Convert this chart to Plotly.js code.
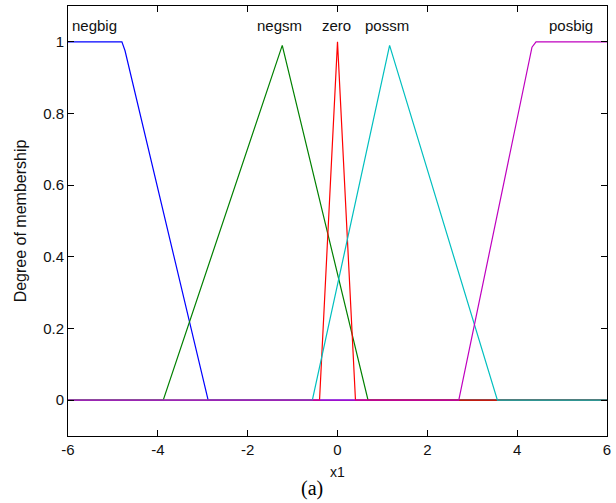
<!DOCTYPE html>
<html>
<head>
<meta charset="utf-8">
<script src="https://cdn.plot.ly/plotly-3.0.1.min.js"></script>
<style>
  html, body { margin: 0; padding: 0; background: #ffffff; }
  #chart { width: 616px; height: 503px; }
</style>
</head>
<body>
<div id="chart"></div>
<script>
// Membership functions of input x1
const mfNames = ["negbig", "negsm", "zero", "possm", "posbig"];

const negbigX = [-6, -4.8, -4.73, -2.88, 6];
const negbigY = [1, 1, 0.975, 0, 0];

const negsmX = [-6, -3.88, -1.23, 0.68, 6];
const negsmY = [0, 0, 0.99, 0, 0];

const zeroX = [-6, -0.4, 0, 0.4, 6];
const zeroY = [0, 0, 1, 0, 0];

const possmX = [-6, -0.56, 1.16, 3.56, 6];
const possmY = [0, 0, 0.99, 0, 0];

const posbigX = [-6, 2.70, 4.33, 4.42, 6];
const posbigY = [0, 0, 0.985, 1, 1];

// label positions (x centre, y) of the MF names
const labelX = [-5.41, -1.29, -0.02, 1.10, 5.20];
const labelY = [1.045, 1.045, 1.045, 1.045, 1.045];

const xTicks = [-6, -4, -2, 0, 2, 4, 6];
const yTicks = [0, 0.2, 0.4, 0.6, 0.8, 1];

const colors = ["#0000ff", "#008000", "#ff0000", "#00bfbf", "#bf00bf"];

const seriesX = [negbigX, negsmX, zeroX, possmX, posbigX];
const seriesY = [negbigY, negsmY, zeroY, possmY, posbigY];

const traces = seriesX.map((xs, i) => ({
  x: xs,
  y: seriesY[i],
  type: "scatter",
  mode: "lines",
  name: mfNames[i],
  line: { color: colors[i], width: 1.2 },
  hoverinfo: "x+y+name"
}));

const fontMain = "Arial, 'Liberation Sans', Helvetica, sans-serif";

const annotations = mfNames.map((n, i) => ({
  x: labelX[i], y: labelY[i], xref: "x", yref: "y",
  text: n, showarrow: false, xanchor: "center", yanchor: "middle",
  font: { family: fontMain, size: 15, color: "#111111" }
}));

annotations.push({
  x: 0.452, y: -0.121, xref: "paper", yref: "paper",
  text: "(a)", showarrow: false, xanchor: "center", yanchor: "middle",
  font: { family: "'Liberation Serif', 'Times New Roman', serif", size: 20, color: "#000000" }
});

const layout = {
  width: 616, height: 503,
  margin: { l: 68, r: 9, t: 6, b: 67, pad: 0 },
  paper_bgcolor: "#ffffff",
  plot_bgcolor: "#ffffff",
  showlegend: false,
  font: { family: fontMain, size: 15, color: "#111111" },
  xaxis: {
    range: [-6, 6],
    tickvals: xTicks,
    ticktext: xTicks.map(String),
    ticks: "inside", ticklen: 6, tickwidth: 1, tickcolor: "#000000",
    showline: true, linecolor: "#000000", linewidth: 1, mirror: "ticks",
    showgrid: false, zeroline: false,
    tickfont: { family: fontMain, size: 15, color: "#111111" },
    title: { text: "x1", standoff: 10, font: { family: fontMain, size: 14, color: "#111111" } }
  },
  yaxis: {
    range: [-0.1, 1.1],
    tickvals: yTicks,
    ticktext: yTicks.map(String),
    ticks: "inside", ticklen: 6, tickwidth: 1, tickcolor: "#000000",
    showline: true, linecolor: "#000000", linewidth: 1, mirror: "ticks",
    showgrid: false, zeroline: false,
    tickfont: { family: fontMain, size: 15, color: "#111111" },
    title: { text: "Degree of membership", standoff: 12, font: { family: fontMain, size: 16, color: "#111111" } }
  },
  annotations: annotations
};

Plotly.newPlot("chart", traces, layout, { displayModeBar: false, staticPlot: true });
</script>
</body>
</html>
